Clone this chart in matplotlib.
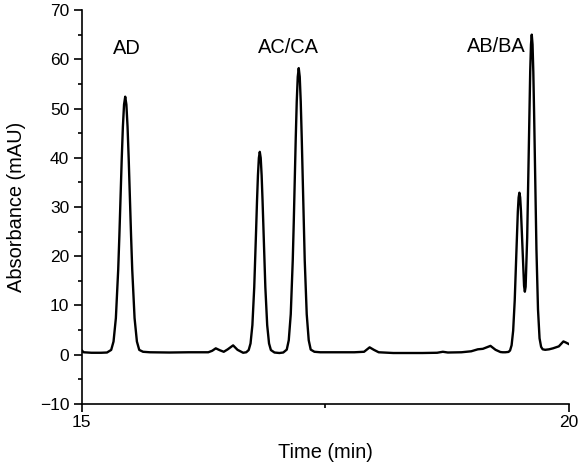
import matplotlib
matplotlib.use("Agg")
import matplotlib.pyplot as plt
from matplotlib.ticker import MultipleLocator, FixedLocator

plt.rcParams['font.family'] = ['Liberation Sans', 'DejaVu Sans']

# Chromatogram trace (time in min, absorbance in mAU)
time_min = [
    15.000, 15.020, 15.100, 15.200, 15.260,
    # AD peak
    15.303, 15.327, 15.351, 15.375, 15.387, 15.399, 15.411, 15.423, 15.435, 15.447,
    15.459, 15.471, 15.483, 15.495, 15.507, 15.519, 15.543, 15.567, 15.591,
    15.630, 15.700, 15.900, 16.100, 16.300, 16.340, 16.377, 16.420, 16.459, 16.500, 16.555, 16.600, 16.658, 16.690,
    # AC/CA first peak
    16.715, 16.734, 16.753, 16.772, 16.7815, 16.791, 16.8005, 16.810, 16.8195, 16.829,
    16.8385, 16.848, 16.8575, 16.867, 16.8765, 16.886, 16.905, 16.924, 16.943,
    16.980, 17.030, 17.070,
    # AC/CA second peak
    17.106, 17.1265, 17.147, 17.1675, 17.1778, 17.188, 17.1983, 17.2085, 17.2188, 17.229,
    17.2393, 17.2495, 17.2598, 17.270, 17.2803, 17.2905, 17.311, 17.3315, 17.352,
    17.390, 17.450, 17.600, 17.800, 17.900, 17.957, 18.000, 18.050, 18.200, 18.500, 18.650, 18.709, 18.760,
    18.900, 19.000, 19.068, 19.120, 19.198, 19.250, 19.300, 19.324, 19.350,
    # AB/BA pair
    19.383, 19.399, 19.415, 19.431, 19.447, 19.455, 19.463, 19.471, 19.479, 19.487, 19.495,
    19.503, 19.511, 19.519, 19.527, 19.543, 19.551, 19.559,
    19.575, 19.582, 19.590, 19.598, 19.606, 19.614, 19.622, 19.630, 19.638, 19.646, 19.654,
    19.662, 19.670, 19.686, 19.702, 19.718, 19.734,
    19.760, 19.800, 19.840, 19.900, 19.947, 19.970, 20.000,
]
absorbance = [
    0.90, 0.50, 0.40, 0.40, 0.45,
    0.98, 2.68, 7.44, 17.28, 24.20, 31.94, 39.65, 46.29, 50.80, 52.40,
    50.80, 46.29, 39.65, 31.94, 24.20, 17.28, 7.44, 2.68, 0.98,
    0.60, 0.50, 0.45, 0.50, 0.50, 0.80, 1.30, 0.90, 0.60, 1.10, 1.90, 1.00, 0.40, 0.50,
    0.95, 2.29, 6.01, 13.72, 19.13, 25.18, 31.22, 36.42, 39.95, 41.20,
    39.95, 36.42, 31.22, 25.18, 19.13, 13.72, 6.01, 2.29, 0.95,
    0.45, 0.35, 0.45,
    1.04, 2.94, 8.22, 19.17, 26.86, 35.46, 44.03, 51.41, 56.42, 58.20,
    56.42, 51.41, 44.03, 35.46, 26.86, 19.17, 8.22, 2.94, 1.04,
    0.60, 0.50, 0.50, 0.50, 0.60, 1.50, 1.00, 0.50, 0.35, 0.35, 0.40, 0.60, 0.45,
    0.50, 0.70, 1.10, 1.20, 1.80, 1.00, 0.55, 0.50, 0.50,
    0.57, 0.86, 1.92, 4.88, 11.02, 15.33, 20.15, 24.96, 29.09, 31.90, 32.90,
    31.95, 29.24, 25.32, 20.94, 14.00, 12.80, 13.80,
    23.79, 30.83, 40.02, 49.36, 57.50, 63.00, 65.00, 63.00, 57.42, 49.18, 39.62,
    30.03, 21.44, 9.23, 3.33, 1.60, 1.10,
    1.00, 1.10, 1.30, 1.70, 2.70, 2.50, 2.20,
]

peak_labels = ["AD", "AC/CA", "AB/BA"]
label_x = [15.462, 17.119, 19.256]
label_y = [62.1, 62.3, 62.5]

fig = plt.figure(figsize=(5.81, 4.68), dpi=100)
ax = fig.add_axes([0.1406, 0.1368, 0.838, 0.8418])

ax.plot(time_min, absorbance, color='black', linewidth=1.7,
        solid_joinstyle='round')

for txt, x, y in zip(peak_labels, label_x, label_y):
    ax.text(x, y, txt, ha='center', va='center', fontsize=14.4)

ax.set_xlim(15, 20)
ax.set_ylim(-10, 70)
ax.xaxis.set_major_locator(FixedLocator([15, 20]))
ax.xaxis.set_minor_locator(FixedLocator([17.5]))
ax.yaxis.set_major_locator(MultipleLocator(10))
ax.yaxis.set_minor_locator(MultipleLocator(5))

for s in ['top', 'right']:
    ax.spines[s].set_visible(False)
for s in ['left', 'bottom']:
    ax.spines[s].set_linewidth(1.2)

ax.tick_params(which='major', direction='out', length=5.5, width=1.2, labelsize=12.5)
ax.tick_params(axis='x', which='major', pad=2.5)
ax.tick_params(which='minor', direction='out', length=3, width=1.2)

ax.set_xlabel("Time (min)", fontsize=14.4, labelpad=9)
ax.set_ylabel("Absorbance (mAU)", fontsize=14.4, labelpad=10)

fig.savefig("out.png", dpi=100)
